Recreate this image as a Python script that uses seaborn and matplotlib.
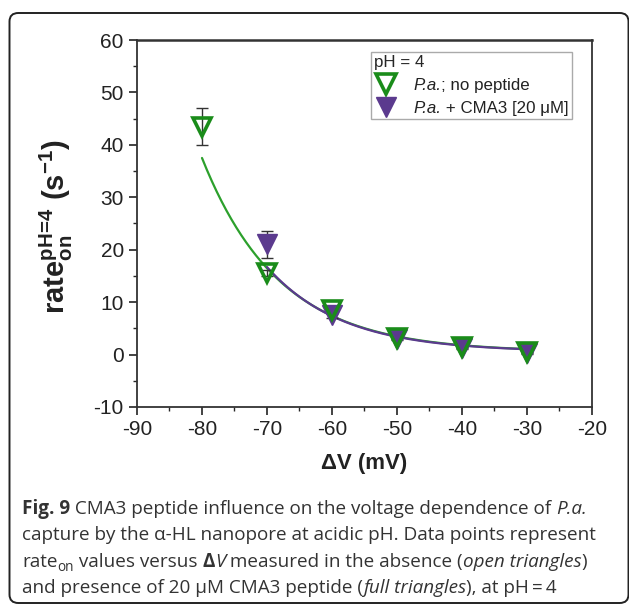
import numpy as np
import pandas as pd
import matplotlib
matplotlib.use('Agg')
import matplotlib.pyplot as plt
from matplotlib.patches import FancyBboxPatch
from matplotlib.ticker import MultipleLocator
from matplotlib.offsetbox import HPacker, TextArea
import seaborn as sns

# data
dv = [-80, -70, -60, -50, -40, -30]
rate_no_pep = [43.5, 15.5, 8.5, 3.2, 1.5, 0.5]
err_no_pep = [3.5, 0.6, 0.5, 0.3, 0.2, 0.2]
dv_cma3 = [-70, -60, -50, -40, -30]
rate_cma3 = [21.0, 7.5, 3.0, 1.3, 0.3]
err_cma3 = [2.5, 0.5, 0.3, 0.2, 0.2]

# exponential fit parameters (y0 + A*exp(-(x - x0)/t)), estimated from the curves
fit_no_pep = dict(x0=-80, y0=0.5, A=37.0, t=11.9, start=-80)
fit_cma3 = dict(x0=-70, y0=0.5, A=16.2, t=11.6, start=-70)

legend_title = 'pH = 4'
legend_parts = [[('P.a.', 'italic'), ('; no peptide', 'normal')],
                [('P.a.', 'italic'), (' + CMA3 [20 μM]', 'normal')]]

green = '#1a8c1a'
purple = '#5b3a8e'

sns.set_style('white')
plt.rcParams['font.family'] = ['Liberation Sans', 'DejaVu Sans']
plt.rcParams['axes.unicode_minus'] = False
plt.rcParams['mathtext.fontset'] = 'custom'
plt.rcParams['mathtext.rm'] = 'Liberation Sans'
plt.rcParams['mathtext.bf'] = 'Liberation Sans:bold'
plt.rcParams['mathtext.it'] = 'Liberation Sans:italic'

fig = plt.figure(figsize=(6.29, 6.07), dpi=100)
W, H = 629, 607
ax = fig.add_axes([137 / W, 1 - 407 / H, (592 - 137) / W, (407 - 40) / H])


def fit_frame(p, end=-30):
    xs = np.linspace(p['start'], end, 200)
    return pd.DataFrame({'x': xs, 'y': p['y0'] + p['A'] * np.exp(-(xs - p['x0']) / p['t'])})


sns.lineplot(data=fit_frame(fit_no_pep), x='x', y='y', ax=ax, color='#2ca02c', lw=1.6)
sns.lineplot(data=fit_frame(fit_cma3), x='x', y='y', ax=ax, color=purple, lw=1.6)

ax.errorbar(dv, rate_no_pep, yerr=err_no_pep, fmt='none', ecolor='#333333',
            elinewidth=1, capsize=4, capthick=1, zorder=3)
ax.errorbar(dv_cma3, rate_cma3, yerr=err_cma3, fmt='none', ecolor='#333333',
            elinewidth=1, capsize=4, capthick=1, zorder=3)

ax.plot(dv_cma3, rate_cma3, ls='none', marker='v', ms=14, mfc=purple, mec=purple,
        mew=1, zorder=4, label='cma3')
ax.plot(dv, rate_no_pep, ls='none', marker='v', ms=13, mfc='none', mec=green,
        mew=2.6, zorder=5, label='none')

ax.set_xlim(-90, -20)
ax.set_ylim(-10, 60)
ax.xaxis.set_major_locator(MultipleLocator(10))
ax.xaxis.set_minor_locator(MultipleLocator(5))
ax.yaxis.set_major_locator(MultipleLocator(10))
ax.yaxis.set_minor_locator(MultipleLocator(5))
ax.tick_params(which='major', direction='out', length=6, width=1.2, labelsize=15,
               colors='#222222', bottom=True, left=True)
ax.tick_params(which='minor', direction='out', length=3, width=1.0,
               bottom=True, left=True)
for s in ax.spines.values():
    s.set_color('#333333')
    s.set_linewidth(1.3)
ax.spines['top'].set_linewidth(1.8)

ax.set_xlabel('')
ax.set_ylabel('')
fig.text(364 / W, 1 - 463 / H, 'ΔV (mV)', ha='center', va='center',
         fontsize=16, fontweight='bold', color='#222222')
fig.text(56 / W, 1 - 227 / H,
         r'$\mathbf{rate}_{\mathbf{on}}^{\mathbf{pH\!=\!4}}\ \mathbf{(s^{-1})}$',
         rotation=90, ha='center', va='center', fontsize=21, color='#222222')

handles, labels = ax.get_legend_handles_labels()
leg_size = 12.2
leg = ax.legend(handles[::-1], ['x', 'x'], title=legend_title, loc='upper left',
                bbox_to_anchor=((371 - 137) / (592 - 137), 1 - (52 - 40) / (407 - 40)),
                fontsize=leg_size, title_fontsize=leg_size,
                frameon=True, fancybox=False, edgecolor='#aaaaaa', framealpha=1,
                handletextpad=0.9, handlelength=1.4, borderpad=0.2,
                labelspacing=0.45, borderaxespad=0)
leg._legend_box.align = 'left'
leg.get_frame().set_linewidth(1.0)
for h in leg.legend_handles:
    h.set_markersize(14)
# swap the plain label boxes for mixed italic / upright text
for row, parts in zip(leg._legend_handle_box.get_children()[0].get_children(), legend_parts):
    areas = [TextArea(txt, textprops=dict(fontstyle=st, fontsize=leg_size, color='#222222'))
             for txt, st in parts]
    packed = HPacker(children=areas, pad=0, sep=0, align='baseline')
    packed.set_figure(fig)
    row._children[1] = packed

# rounded border around the whole figure
border = FancyBboxPatch((9.5 / W, 1 - 603 / H), (628.5 - 9.5) / W, (603 - 13) / H,
                        boxstyle='round,pad=0,rounding_size=0.014',
                        transform=fig.transFigure, fill=False, ec='#222222', lw=1.4)
fig.patches.append(border)

# caption with mixed styles
cap_font = 'Open Sans'
cap_size = 13.6
cap_color = '#333333'
lines = [
    [('Fig. 9', 'bold', 'normal', 'n'), (' CMA3 peptide influence on the voltage dependence of ', 'normal', 'normal', 'n'),
     ('P.a.', 'normal', 'italic', 'n')],
    [('capture by the α-HL nanopore at acidic pH. Data points represent', 'normal', 'normal', 'n')],
    [('rate', 'normal', 'normal', 'n'), ('on', 'normal', 'normal', 'sub'),
     (' values versus ', 'normal', 'normal', 'n'), ('Δ', 'bold', 'normal', 'n'), ('V', 'normal', 'italic', 'n'),
     (' measured in the absence (', 'normal', 'normal', 'n'), ('open triangles', 'normal', 'italic', 'n'),
     (')', 'normal', 'normal', 'n')],
    [('and presence of 20 µM CMA3 peptide (', 'normal', 'normal', 'n'), ('full triangles', 'normal', 'italic', 'n'),
     ('), at pH\u2009=\u20094', 'normal', 'normal', 'n')],
]
baselines = [514, 540, 567, 593]

fig.canvas.draw()
renderer = fig.canvas.get_renderer()
for segs, yb in zip(lines, baselines):
    x = 22
    for txt, wt, st, pos in segs:
        size = cap_size * (0.72 if pos == 'sub' else 1)
        dy = 4 if pos == 'sub' else 0
        t = fig.text(x / W, 1 - (yb + dy) / H, txt, fontsize=size, fontweight=wt,
                     fontstyle=st, family=[cap_font, 'DejaVu Sans'], color=cap_color,
                     ha='left', va='baseline')
        bb = t.get_window_extent(renderer=renderer)
        x += bb.width

fig.savefig('out.png', dpi=100)
